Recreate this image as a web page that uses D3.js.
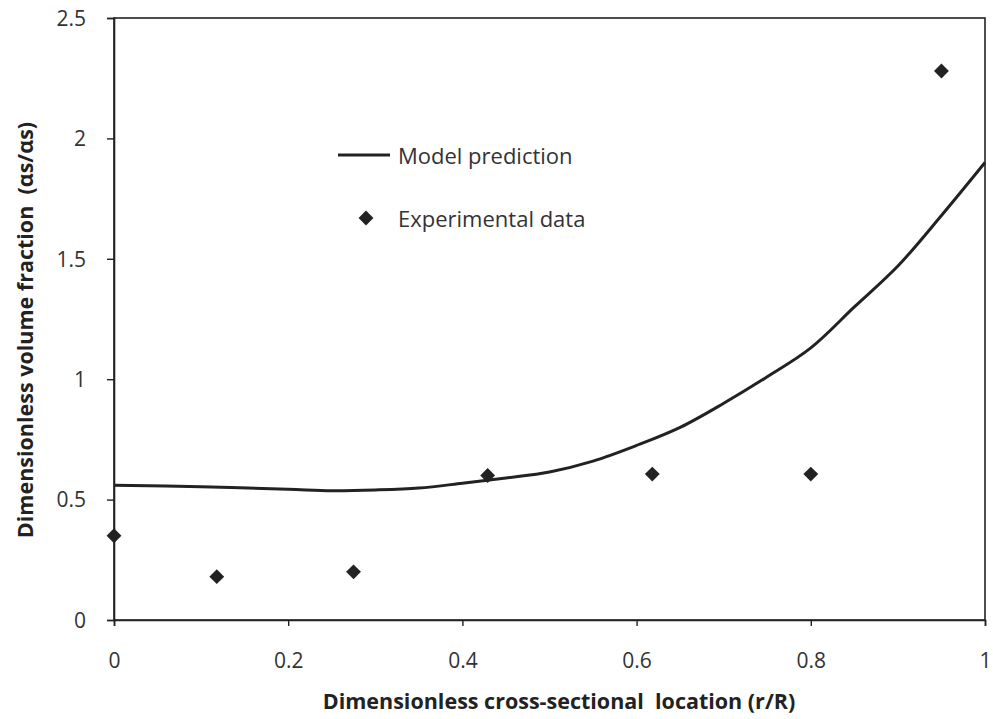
<!DOCTYPE html>
<html><head><meta charset="utf-8">
<script src="https://cdn.jsdelivr.net/npm/d3@7"></script>
<style>body{margin:0;background:#fff}</style>
</head><body><svg id="c" width="993" height="719"></svg>
<script>
const modelR = [0,0.1,0.2,0.25,0.3,0.35,0.4,0.45,0.5,0.55,0.6,0.65,0.7,0.75,0.8,0.85,0.9,0.95,1.0];
const modelV = [0.56,0.553,0.543,0.537,0.54,0.548,0.568,0.59,0.615,0.66,0.725,0.80,0.90,1.01,1.13,1.30,1.47,1.68,1.90];
const expR = [0,0.118,0.275,0.429,0.618,0.80,0.95];
const expV = [0.35,0.18,0.20,0.60,0.606,0.606,2.28];
const xTicks = [0,0.2,0.4,0.6,0.8,1];
const yTicks = [0,0.5,1,1.5,2,2.5];
const xTitle = "Dimensionless cross-sectional  location (r/R)";
const yTitle = "Dimensionless volume fraction  (αs/αs)";
const legendLabels = ["Model prediction","Experimental data"];

const svg = d3.select("#c");
const L=114,R=985,T=18,B=620;
const x = d3.scaleLinear().domain([0,1]).range([L,R]);
const y = d3.scaleLinear().domain([0,2.5]).range([B,T]);
const font = "'Open Sans', 'Liberation Sans', sans-serif";
const ink="#222";

svg.append("rect").attr("x",L).attr("y",T).attr("width",R-L).attr("height",B-T)
  .attr("fill","none").attr("stroke",ink).attr("stroke-width",1.6);

const xa = svg.append("g").attr("transform",`translate(0,${B})`)
  .call(d3.axisBottom(x).tickValues(xTicks).tickFormat(d3.format("")).tickSize(6).tickPadding(27));
const ya = svg.append("g").attr("transform",`translate(${L},0)`)
  .call(d3.axisLeft(y).tickValues(yTicks).tickFormat(d3.format("")).tickSize(7).tickPadding(21));
[xa,ya].forEach(a=>{
  a.select(".domain").attr("stroke",ink).attr("stroke-width",1.6);
  a.selectAll(".tick line").attr("stroke",ink).attr("stroke-width",1.4);
  a.selectAll("text").attr("font-family",font).attr("font-size",21).attr("fill","#333");
});
ya.selectAll("text").attr("dy","0.35em");

const pts = modelR.map((r,i)=>[r,modelV[i]]);
svg.append("path").datum(pts)
  .attr("d",d3.line().x(d=>x(d[0])).y(d=>y(d[1])).curve(d3.curveCatmullRom))
  .attr("fill","none").attr("stroke",ink).attr("stroke-width",3);

const diamond = d3.symbol().type(d3.symbolDiamond2).size(140);
svg.append("g").selectAll("path").data(expR.map((r,i)=>[r,expV[i]])).join("path")
  .attr("d",diamond).attr("transform",d=>`translate(${x(d[0])},${y(d[1])})`).attr("fill",ink);

svg.append("line").attr("x1",338).attr("x2",390).attr("y1",155).attr("y2",155).attr("stroke",ink).attr("stroke-width",3);
svg.append("path").attr("d",diamond).attr("transform","translate(366,218)").attr("fill",ink);
svg.append("text").attr("x",398).attr("y",164).text(legendLabels[0]).attr("font-family",font).attr("font-size",22).attr("fill","#333");
svg.append("text").attr("x",398).attr("y",227).text(legendLabels[1]).attr("font-family",font).attr("font-size",22).attr("fill","#333");

svg.append("text").attr("x",559).attr("y",709).attr("text-anchor","middle").text(xTitle)
  .attr("font-family",font).attr("font-size",21.5).attr("font-weight","bold").attr("fill","#222").style("white-space","pre");
svg.append("text").attr("transform","translate(33,330) rotate(-90)").attr("text-anchor","middle").text(yTitle)
  .attr("font-family",font).attr("font-size",21.5).attr("font-weight","bold").attr("fill","#222").style("white-space","pre");
</script></body></html>
